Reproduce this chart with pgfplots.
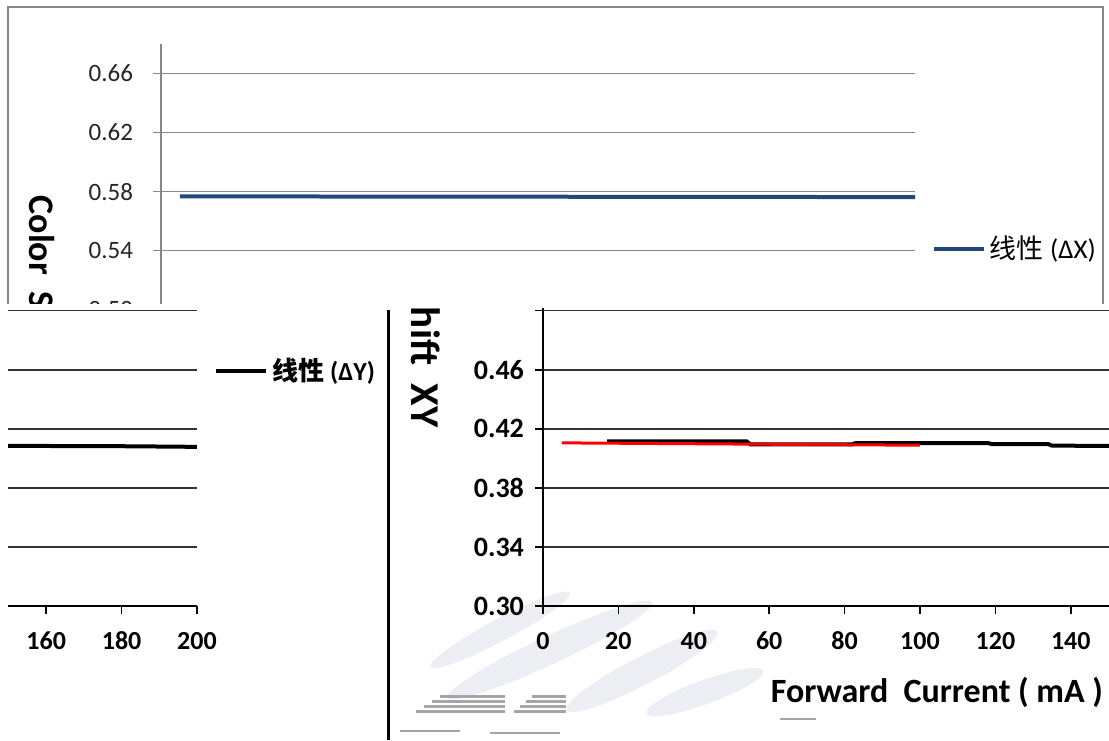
\documentclass[border=0pt]{standalone}
\usepackage{fontspec}
\setmainfont{Carlito}
\newfontfamily\cjk{Noto Sans CJK SC}
\usepackage{pgfplots}
\usepackage{pgfplotstable}
\pgfplotsset{compat=1.18}
\definecolor{xblue}{RGB}{31,73,125}
\definecolor{gridA}{RGB}{134,134,134}
\definecolor{wm}{RGB}{236,238,244}
\definecolor{wmd}{RGB}{165,165,165}

\pgfplotstableread{
x y
5 0.5768
200 0.5763
}\dataA
\pgfplotstableread{
x y
17 0.4115
54 0.4115
55 0.4095
82 0.4095
83 0.4104
118 0.4104
119 0.4097
134 0.4097
135 0.4086
182 0.4082
200 0.4078
}\dataBblack
\pgfplotstableread{
x y
5 0.4105
100 0.4089
}\dataBred

\pgfplotsset{
  common/.style={
    scale only axis, width=377pt, height=280.5pt,
    xmin=0, xmax=200, ymin=0.30, ymax=0.68,
    ytick={0.30,0.34,0.38,0.42,0.46,0.50,0.54,0.58,0.62,0.66},
    xtick={0,20,40,60,80,100,120,140,160,180,200},
    ymajorgrids,
    axis x line*=bottom, axis y line*=left,
    tick align=outside, major tick length=4pt,
    anchor=south west,
    /pgf/number format/assume math mode=true,
    yticklabel style={/pgf/number format/fixed, /pgf/number format/fixed zerofill, /pgf/number format/precision=2},
    xticklabel style={/pgf/number format/fixed, text height=9pt, text depth=0pt},
    legend image code/.code={\draw[##1] (0pt,0pt) -- (25pt,0pt);},
    every axis x label/.style={at={(axis description cs:0.5225,-0.155)}, anchor=center,
      font=\bfseries\fontsize{17}{20}\selectfont},
    ylabel={Color\ \ Shift\ \ XY},
    xlabel={Forward\ \ Current ( mA )},
  },
  styleA/.style={common,
    axis line style={gridA, line width=0.75pt},
    tick style={gridA, line width=0.75pt},
    grid style={gridA, line width=0.75pt},
    ticklabel style={font=\fontsize{12.5}{14}\selectfont, text=black!85},
    yticklabel style={xshift=-6.5pt},
    every axis y label/.style={at={(axis description cs:-0.158,0.535)}, rotate=-90, anchor=center,
      font=\bfseries\fontsize{18}{20}\selectfont},
    legend style={draw=none, fill=none, at={(1.022,0.6346)}, anchor=west, inner sep=0pt,
      font=\fontsize{13.5}{15}\selectfont},
  },
  styleB/.style={common,
    axis line style={black, line width=0.75pt},
    tick style={black, line width=0.75pt},
    grid style={black!80, line width=0.75pt},
    yticklabels={0.30,0.34,0.38,0.42,0.46,,0.54,0.58,0.62,0.66},
    yticklabel style={font=\bfseries\fontsize{14}{16}\selectfont, text=black, xshift=-2pt},
    xticklabel style={font=\bfseries\fontsize{13}{15}\selectfont, text=black, yshift=-5pt},
    every axis y label/.style={at={(axis description cs:-0.155,0.54)}, rotate=-90, anchor=center,
      font=\bfseries\fontsize{20.5}{23}\selectfont},
    legend style={draw=none, fill=none, at={(1.0225,0.419)}, anchor=west, inner sep=0pt,
      font=\bfseries\fontsize{13}{15}\selectfont},
  },
  plotB/.code={
    \addplot[black, line width=2pt] table[x=x,y=y] {\dataBblack};
    \addlegendentry{{\cjk\bfseries 线性} (ΔY)}
    \addplot[red, line width=1.5pt, forget plot] table[x=x,y=y] {\dataBred};
  },
}

\begin{document}
\begin{tikzpicture}
\path[use as bounding box] (0,0) rectangle (554.5pt,370pt);
\fill[white] (0,0) rectangle (554.5pt,370pt);

% ---------- top chart (Delta X) ----------
\begin{scope}
\clip (0,218pt) rectangle (554.5pt,370pt);
\draw[gridA, line width=1pt] (4pt,218pt) -- (4pt,366.5pt) -- (551.5pt,366.5pt) -- (551.5pt,218pt);
\begin{axis}[styleA, at={(80.5pt,67.5pt)}]
\addplot[xblue, line width=2pt] table[x=x,y=y] {\dataA};
\addlegendentry{{\cjk 线性} (ΔX)}
\end{axis}
\end{scope}

% ---------- bottom chart (Delta Y), unwrapped part ----------
\begin{scope}
\clip (194.5pt,0) rectangle (554.5pt,215.5pt);
% watermark
\fill[wm, rotate around={28:(250pt,55pt)}] (250pt,55pt) ellipse [x radius=39.5pt, y radius=5.5pt];
\fill[wm, rotate around={25:(275pt,45pt)}] (275pt,45pt) ellipse [x radius=56.5pt, y radius=7pt];
\fill[wm, rotate around={27.5:(321pt,34.5pt)}] (321pt,34.5pt) ellipse [x radius=42.5pt, y radius=7pt];
\fill[wm, rotate around={20:(352.5pt,24pt)}] (352.5pt,24pt) ellipse [x radius=31pt, y radius=6pt];
\foreach \k in {0,1,2,3}{
  \fill[wmd] ({220pt-\k*4pt},{22.5pt-\k*2.5pt}) rectangle (252.5pt,{21pt-\k*2.5pt});
  \fill[wmd] ({266pt-\k*3pt},{22.5pt-\k*2.5pt}) rectangle (283pt,{21pt-\k*2.5pt});
}
\fill[wmd] (200pt,5pt) rectangle (230pt,4.2pt);
\fill[wmd] (245pt,4pt) rectangle (280pt,3.2pt);
\fill[wmd] (390pt,11pt) rectangle (408pt,10pt);
\begin{axis}[styleB, at={(271.5pt,67pt)}]
\pgfplotsset{plotB}
\end{axis}
\end{scope}

% ---------- bottom chart, wrapped part ----------
\begin{scope}
\clip (4pt,0) rectangle (194.5pt,215.5pt);
\begin{axis}[styleB, at={(-278.5pt,67pt)}]
\pgfplotsset{plotB}
\end{axis}
\end{scope}

% chart frame edge of bottom chart
\draw[black, line width=1.5pt] (194pt,0) -- (194pt,215pt);
\end{tikzpicture}
\end{document}
